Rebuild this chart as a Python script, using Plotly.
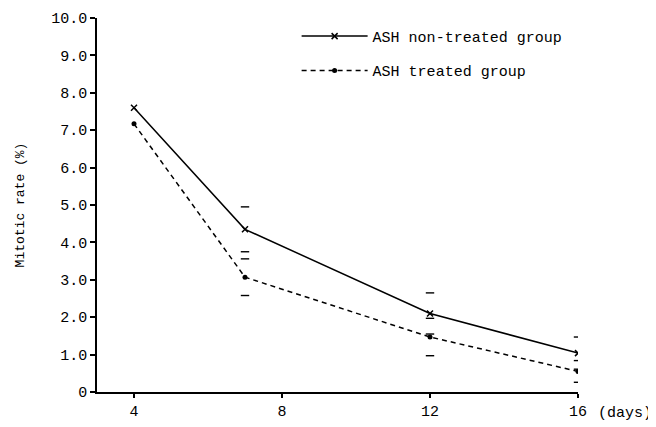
import plotly.graph_objects as go

days = [4, 7, 12, 16]
non_treated = [7.6, 4.35, 2.1, 1.04]
non_treated_err = [0.0, 0.6, 0.55, 0.43]
treated = [7.17, 3.07, 1.47, 0.55]
treated_err = [0.0, 0.49, 0.5, 0.29]

x_ticks = [4, 8, 12, 16]
y_ticks = [0, 1, 2, 3, 4, 5, 6, 7, 8, 9, 10]
y_ticktext = ["0", "1.0", "2.0", "3.0", "4.0", "5.0", "6.0", "7.0", "8.0", "9.0", "10.0"]

FONT = "Liberation Mono"

fig = go.Figure()

fig.add_trace(go.Scatter(
    x=days, y=non_treated, mode="lines+markers", name="ASH non-treated group",
    line=dict(color="black", width=1.5),
    marker=dict(symbol="x-thin", size=6, line=dict(color="black", width=1.5)),
    legendgroup="a",
))
fig.add_trace(go.Scatter(
    x=days, y=treated, mode="lines+markers", name="ASH treated group",
    line=dict(color="black", width=1.5, dash="5px,4px"),
    marker=dict(symbol="circle", size=5, color="black"),
    legendgroup="b",
))

# error-bar caps drawn as short horizontal dashes (no vertical stems, as in the original)
def caps(vals, errs):
    xs, ys = [], []
    for d, v, e in zip(days, vals, errs):
        if e > 0:
            xs += [d, d]
            ys += [v + e, v - e]
    return xs, ys

for vals, errs in [(non_treated, non_treated_err), (treated, treated_err)]:
    cx, cy = caps(vals, errs)
    fig.add_trace(go.Scatter(
        x=cx, y=cy, mode="markers", showlegend=False, hoverinfo="skip",
        marker=dict(symbol="line-ew", size=6, line=dict(color="black", width=1.4)),
    ))

# the page body has an 8px default margin, so the figure is sized to fit the window
fig.update_layout(
    width=648, height=419,
    margin=dict(l=89, r=78, t=10, b=35),
    paper_bgcolor="white", plot_bgcolor="white",
    font=dict(family=FONT, size=15, color="black"),
    showlegend=True,
    legend=dict(
        x=0.415, y=0.995, xanchor="left", yanchor="top",
        bgcolor="rgba(0,0,0,0)", font=dict(family=FONT, size=15),
        traceorder="grouped", tracegroupgap=12, itemwidth=66,
    ),
    annotations=[
        dict(text="(days)", xref="paper", yref="paper", x=1.0, y=0, xshift=18,
             yshift=-21, xanchor="left", yanchor="middle", showarrow=False,
             font=dict(family=FONT, size=15)),
    ],
)

fig.update_xaxes(
    range=[3, 16], tickvals=x_ticks, ticktext=[str(t) for t in x_ticks],
    showline=True, linecolor="black", linewidth=1.5, showgrid=False, zeroline=False,
    ticks="outside", ticklen=4, tickcolor="black", tickwidth=1.5,
    tickfont=dict(family=FONT, size=15), automargin=False,
)
fig.update_yaxes(
    range=[0, 10], tickvals=y_ticks, ticktext=y_ticktext,
    showline=True, linecolor="black", linewidth=1.5, showgrid=False, zeroline=False,
    ticks="outside", ticklen=5, tickcolor="black", tickwidth=1.5,
    tickfont=dict(family=FONT, size=15), automargin=False,
    title=dict(text="Mitotic rate (%)", font=dict(family=FONT, size=13), standoff=24),
)

fig.write_html("out.html")
